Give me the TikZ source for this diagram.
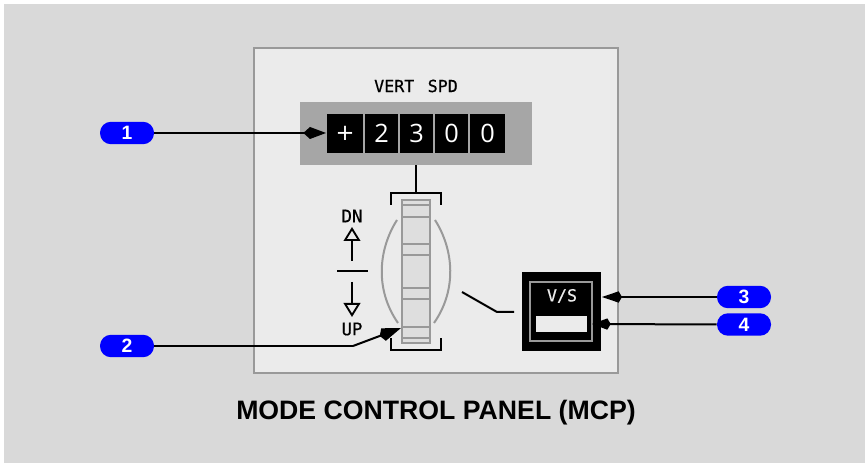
\documentclass[tikz,border=0pt]{standalone}
\usepackage{fontspec}
\setmainfont{Liberation Sans}
\newfontfamily\panelfont[RawFeature={embolden=0.5}]{DejaVu Sans Mono}
\newfontfamily\digitfont{Open Sans}
\newfontfamily\plusfont{DejaVu Sans}
\usetikzlibrary{arrows.meta,calc}
\definecolor{bggray}{HTML}{D9D9D9}
\definecolor{panelgray}{HTML}{EBEBEB}
\definecolor{edgegray}{HTML}{999999}
\definecolor{dispgray}{HTML}{A6A6A6}
\definecolor{stripgray}{HTML}{DEDEDE}
\definecolor{pillblue}{HTML}{0000FF}
\tikzset{
  px/.style={x=0.75pt,y=-0.75pt},
  pill/.style={rectangle,rounded corners=8.2pt,fill=pillblue,text=white,inner sep=0pt,
    minimum width=40.5pt,minimum height=16.8pt,font=\bfseries\fontsize{14.5}{14.5}\selectfont},
  cell/.style={rectangle,fill=black,text=white,inner sep=0pt,minimum height=29.5pt,
    font=\digitfont\fontsize{19}{19}\selectfont},
  lbl/.style={inner sep=0pt,text=black,font=\panelfont\fontsize{12.5}{12.5}\selectfont},
  updn/.style={lbl,font=\panelfont\fontsize{13}{13}\selectfont},
  leader/.style={draw=black,line width=1.5pt},
  thin line/.style={draw=black,line width=1.5pt},
  slat/.style={draw=edgegray,line width=1.6pt},
  arcline/.style={draw=edgegray,line width=1.5pt},
  hollow/.style={-{Triangle[open,fill=panelgray,length=10.5pt,width=12.5pt,line width=1.4pt]}},
}
\begin{document}
\begin{tikzpicture}[px,line cap=butt]
\useasboundingbox (0,0) rectangle (865,463);
\fill[white] (0,0) rectangle (865,463);
\fill[bggray] (4,4) rectangle (865,463);
% panel
\node[draw=edgegray,fill=panelgray,line width=1.3pt,inner sep=0pt,minimum width=273pt,minimum height=243.7pt] (panel) at (436,210.5) {};
\node[lbl] (vert) at (416,86) {VERT\hspace{0.2em} SPD};
% display
\node[fill=dispgray,inner sep=0pt,minimum width=174pt,minimum height=47.2pt] (disp) at (416,133.5) {};
\node[cell,minimum width=27pt,font=\plusfont\fontsize{17}{17}\selectfont] (d0) at (345,133.5) {+};
\node[cell,minimum width=24.7pt] (d1) at (381.5,133.5) {2};
\node[cell,minimum width=24.7pt] (d2) at (416.5,133.5) {3};
\node[cell,minimum width=24.7pt] (d3) at (451.5,133.5) {0};
\node[cell,minimum width=26pt] (d4) at (487.5,133.5) {0};
% wheel brackets
\coordinate (bt) at (416,193);
\draw[thin line] (disp.south -| bt) -- (bt);
\draw[thin line,line cap=square] (391,205) -- (391,193) -- (441,193) -- (441,205);
\draw[thin line,line cap=square] (391,338) -- (391,350) -- (441,350) -- (441,338);
% wheel
\node[draw=edgegray,fill=stripgray,line width=1.6pt,inner sep=0pt,minimum width=21pt,minimum height=107pt] (wheel) at (416,271.5) {};
\foreach \y in {205,217,244,255,288,299,327,338}
  \draw[slat] (402,\y) -- (430,\y);
\draw[arcline] (397,220) .. controls (378,250) and (375,290) .. (398,323);
\draw[arcline] (435,220) .. controls (454,250) and (457,290) .. (434,323);
% DN / UP
\node[updn] (dn) at (352,216) {DN};
\node[updn] (up) at (352,329) {UP};
\coordinate (ua) at (352,261); \coordinate (ub) at (352,227);
\coordinate (da) at (352,282); \coordinate (db) at (352,317);
\draw[thin line,hollow] (ua) -- (ub);
\draw[thin line,hollow] (da) -- (db);
\draw[thin line] (337,271.5) -- (368,271.5);
% V/S
\node[fill=black,inner sep=0pt,minimum width=59.2pt,minimum height=59.2pt] (vsbox) at (561.5,311.5) {};
\node[draw=edgegray,line width=1.4pt,inner sep=0pt,minimum width=46.5pt,minimum height=44.2pt] (vsin) at (561,311.5) {};
\node[lbl,text=panelgray] (vs) at (562,296) {V/S};
\node[fill=panelgray,inner sep=0pt,minimum width=38.5pt,minimum height=12pt] (vsbar) at (561.5,324) {};
\coordinate (sa) at (462,292); \coordinate (sb) at (497,312); \coordinate (sc) at (514,312);
\draw[thin line] (sa) -- (sb) -- (sc);
% pills
\node[pill] (p1) at (127,133) {1};
\node[pill] (p2) at (127,346) {2};
\node[pill] (p3) at (744,297) {3};
\node[pill] (p4) at (744,324.5) {4};
% leaders
\coordinate (t1) at (326,133);
\coordinate (t2) at (401,328);
\coordinate (k2) at (353,346);
\coordinate (t3) at (602,297);
\coordinate (t4) at (592,324);
\draw[leader,-{Kite[length=17pt,width=9pt,inset=5pt]}] (p1.east) -- (t1);
\draw[leader] (p2.east) -- (k2);
\draw[leader,-{Kite[length=17pt,width=10pt,inset=3pt]}] (k2) -- (t2);
\draw[leader,-{Kite[length=15pt,width=8.5pt,inset=2.5pt]}] (p3.west) -- (t3);
\draw[leader,-{Kite[length=14pt,width=8.5pt,inset=2.5pt]}] (p4.west) -- (t4);
% title
\node[inner sep=0pt,font=\bfseries\fontsize{20}{20}\selectfont] (title) at (436,413) {MODE CONTROL PANEL (MCP)};
\end{tikzpicture}
\end{document}
